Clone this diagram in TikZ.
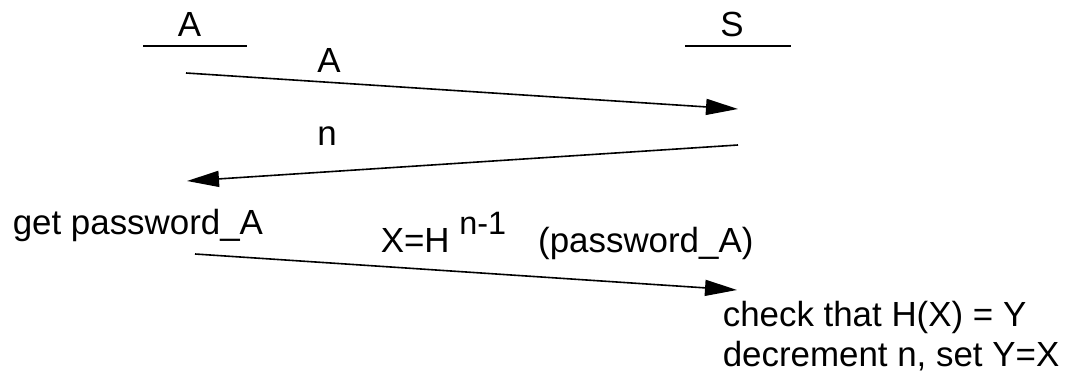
\documentclass[tikz,border=0pt]{standalone}
\usepackage{fontspec}
\setmainfont{Liberation Sans}
\usetikzlibrary{arrows.meta,positioning}

\begin{document}
\begin{tikzpicture}[x=0.5pt, y=-0.5pt, line width=0.8pt,
    every node/.style = {font=\fontsize{17.45}{20}\selectfont},
    party/.style = {inner sep=0pt, anchor=base},
    txt/.style = {inner sep=0pt, anchor=base west},
    msg/.style = {-{Triangle[length=16pt, width=8pt]}}]
    \useasboundingbox (0,0) rectangle (1078,379);

    % parties
    \node[party] (A) at (189.5,37) {A};
    \node[party] (S) at (732,37) {S};
    \draw ([shift={(-46.5,9)}]A.base) -- ++(104,0);
    \draw ([shift={(-47,9)}]S.base) -- ++(106,0);

    % ends of the messages
    \coordinate (a1) at (186,73);
    \coordinate (s1) at (738,109);
    \coordinate (s2) at (738,145);
    \coordinate (a2) at (187,181);
    \coordinate (a3) at (195,254);
    \coordinate (s3) at (737,290);

    \draw[msg] (a1) -- (s1);
    \draw[msg] (s2) -- (a2);
    \draw[msg] (a3) -- (s3);

    \node (lblA) at (329,60) {A};
    \node (lbln) at (327,136) {n};
    \node[txt] (getpw) at (12,235) {get password\_A};
    \node[txt] (xval) at (380,253) {X=H \raisebox{9pt}{\fontsize{16.2}{18}\selectfont n-1}\hspace{16pt}(password\_A)};
    \node[txt] (check) at (722,327) {check that H(X) = Y};
    \node[txt] (decr) at ([yshift=-20pt]check.base west) {decrement n, set Y=X};
\end{tikzpicture}
\end{document}
